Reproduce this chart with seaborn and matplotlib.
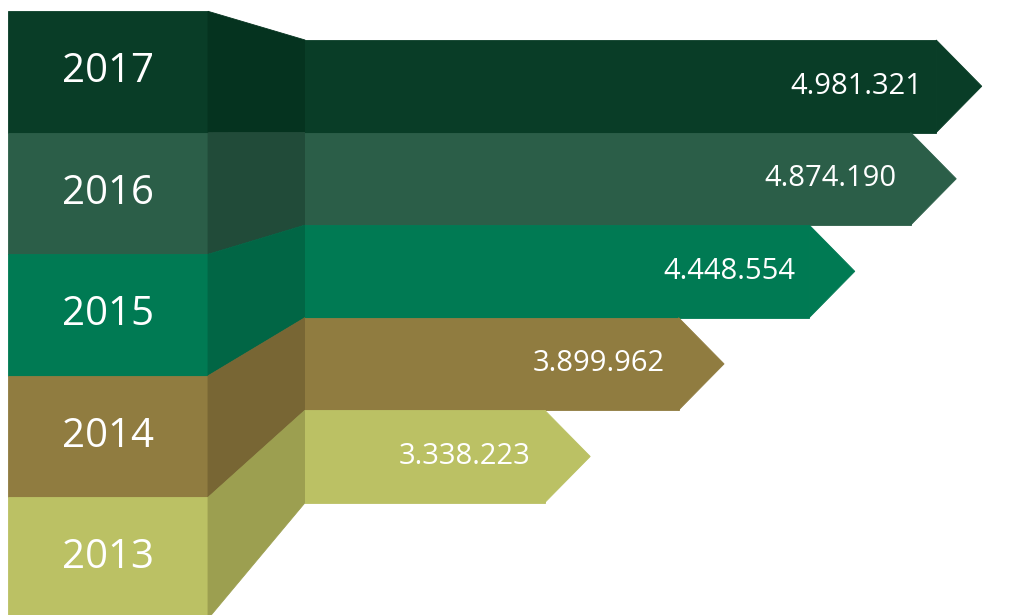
import numpy as np
import pandas as pd
import matplotlib
matplotlib.use("Agg")
import matplotlib.pyplot as plt
import seaborn as sns
from matplotlib.patches import Polygon, Rectangle

# ---- data ----
years = ["2017", "2016", "2015", "2014", "2013"]
values = [4981321, 4874190, 4448554, 3899962, 3338223]
value_labels = ["4.981.321", "4.874.190", "4.448.554", "3.899.962", "3.338.223"]
colors = ["#093d27", "#2b5e48", "#007a53", "#907c40", "#bbc164"]
fold_colors = ["#05331f", "#214b39", "#016645", "#786634", "#9c9f50"]

# ---- layout constants ----
W, H, DPI = 1016, 615, 100
BASE = 2_141_400        # value at the start of the arrows
X_MAX = 5_125_000       # value at the right edge of the figure
TIP = 191_000           # length of the arrow head in value units
BLOCK_X0, BLOCK_X1, FOLD_X1 = 8, 208, 305   # pixel columns of blocks / fold
Y_TOP, Y_BOT = -0.932, 5.713                # category units at figure top/bottom
BLOCK_TOP0, BLOCK_STEP = -0.810, 1.313      # left blocks in category units

sns.set_theme(style="white")
plt.rcParams["font.family"] = ["Open Sans", "DejaVu Sans"]

fig = plt.figure(figsize=(W / DPI, H / DPI), dpi=DPI)
fig.patch.set_facecolor("white")

# background axes: left blocks and folds (x in pixel layout, y in category units)
ax_bg = fig.add_axes([0, 0, 1, 1])
ax_bg.set_xlim(0, W)
ax_bg.set_ylim(Y_BOT, Y_TOP)
ax_bg.axis("off")

# bar axes: starts at the fold's right edge
ax = fig.add_axes([FOLD_X1 / W, 0, 1 - FOLD_X1 / W, 1])
ax.patch.set_visible(False)

df = pd.DataFrame({"year": years, "value": values})
df["body"] = df["value"] - TIP
sns.barplot(data=df, x="body", y="year", hue="year", order=years, hue_order=years,
            palette=colors, orient="h", width=1.0, saturation=1, dodge=False,
            legend=False, linewidth=0, ax=ax)
for p in ax.patches:
    p.set_edgecolor(p.get_facecolor())
    p.set_linewidth(0.6)

ax.set_xlim(BASE, X_MAX)
ax.set_ylim(Y_BOT, Y_TOP)
ax.axis("off")

for i, (v, c, lab) in enumerate(zip(values, colors, value_labels)):
    tip = Polygon([(v - TIP, i - 0.5), (v, i), (v - TIP, i + 0.5)],
                  closed=True, facecolor=c, edgecolor=c, linewidth=0.6, zorder=3)
    ax.add_patch(tip)
    ax.annotate(lab, xy=(v - TIP, i), xytext=(-10, 0), textcoords="offset points",
                ha="right", va="center", color="white", fontsize=21, zorder=5)

# left blocks and folds
for i, (yr, c, fc) in enumerate(zip(years, colors, fold_colors)):
    top = BLOCK_TOP0 + BLOCK_STEP * i
    bot = top + BLOCK_STEP
    ax_bg.add_patch(Rectangle((BLOCK_X0, top), BLOCK_X1 - BLOCK_X0, BLOCK_STEP,
                              facecolor=c, edgecolor=c, linewidth=0.6, zorder=2))
    ax_bg.add_patch(Polygon([(BLOCK_X1, top), (FOLD_X1, i - 0.5),
                             (FOLD_X1, i + 0.5), (BLOCK_X1, bot)],
                            closed=True, facecolor=fc, edgecolor=fc,
                            linewidth=0.6, zorder=2))
    ax_bg.text((BLOCK_X0 + BLOCK_X1) / 2, (top + bot) / 2, yr, ha="center",
               va="center", color="white", fontsize=29, zorder=4)

fig.savefig("out.png", dpi=DPI, facecolor="white")
